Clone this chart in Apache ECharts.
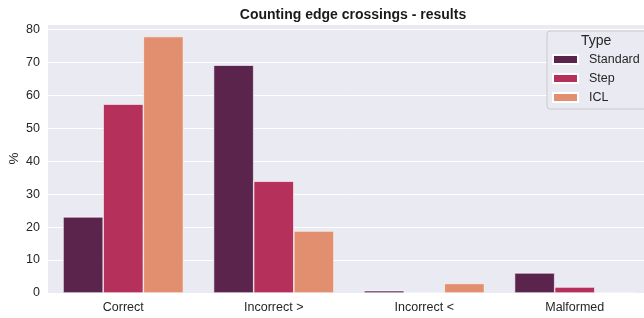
<!DOCTYPE html>
<html>
<head>
<meta charset="utf-8">
<script src="https://cdn.jsdelivr.net/npm/echarts@6/dist/echarts.min.js"></script>
<style>
  html, body { margin: 0; padding: 0; background: #fff; }
  #chart { width: 644px; height: 318px; }
</style>
</head>
<body>
<div id="chart"></div>
<script>
// data
var categories = ['Correct', 'Incorrect >', 'Incorrect <', 'Malformed'];
var seriesNames = ['Standard', 'Step', 'ICL'];
var standardVals = [23.1, 69.1, 0.7, 6.1];
var stepVals = [57.3, 33.9, 0, 1.8];
var iclVals = [77.8, 18.8, 2.9, 0];
var yTicks = [0, 10, 20, 30, 40, 50, 60, 70, 80];

var colors = ['#5B244C', '#B5305A', '#E28F6F'];
var font = "'Liberation Sans', Arial, sans-serif";

var chart = echarts.init(document.getElementById('chart'));

var allVals = [standardVals, stepVals, iclVals];
var series = seriesNames.map(function (n, i) {
  return {
    name: n,
    type: 'bar',
    data: allVals[i],
    barGap: '0%',
    barCategoryGap: '20%',
    itemStyle: { color: colors[i], borderColor: '#ffffff', borderWidth: 0.6 }
  };
});

var option = {
  animation: false,
  backgroundColor: '#ffffff',
  color: colors,
  title: {
    text: 'Counting edge crossings - results',
    left: 348,
    textAlign: 'center',
    top: 3,
    textStyle: { fontFamily: font, fontSize: 14, fontWeight: 'bold', color: '#1a1a1a' }
  },
  grid: {
    left: 48, right: -6, top: 24, bottom: 25,
    outerBoundsMode: 'none',
    containLabel: false,
    show: true, backgroundColor: '#EAEAF2', borderWidth: 0
  },
  legend: {
    data: seriesNames,
    orient: 'vertical',
    left: 547,
    top: 31,
    padding: [22, 20, 5, 5],
    itemGap: 6,
    itemWidth: 25,
    itemHeight: 9,
    backgroundColor: '#EAEAF2',
    borderColor: '#cccccc',
    borderWidth: 1,
    borderRadius: 3,
    icon: 'rect',
    textStyle: { fontFamily: font, fontSize: 12.5, color: '#262626', padding: [0, 0, 0, 6] }
  },
  graphic: [{
    type: 'text',
    left: 581,
    top: 34,
    z: 100,
    style: { text: 'Type', font: '14px ' + font, fill: '#262626' }
  }],
  xAxis: {
    type: 'category',
    data: categories,
    axisLine: { show: false },
    axisTick: { show: false },
    axisLabel: { fontFamily: font, fontSize: 12.5, color: '#262626', margin: 8 }
  },
  yAxis: {
    type: 'value',
    min: 0,
    max: 81.6,
    interval: 10,
    name: '%',
    nameLocation: 'middle',
    nameGap: 27,
    nameMoveOverlap: false,
    nameTextStyle: { fontFamily: font, fontSize: 13.5, color: '#262626' },
    axisLine: { show: false },
    axisTick: { show: false },
    splitLine: { lineStyle: { color: '#ffffff', width: 1 } },
    axisLabel: {
      fontFamily: font, fontSize: 12.5, color: '#262626', margin: 8,
      showMaxLabel: true,
      formatter: function (v) { return yTicks.indexOf(v) >= 0 ? String(v) : ''; }
    }
  },
  series: series
};

chart.setOption(option);
</script>
</body>
</html>
